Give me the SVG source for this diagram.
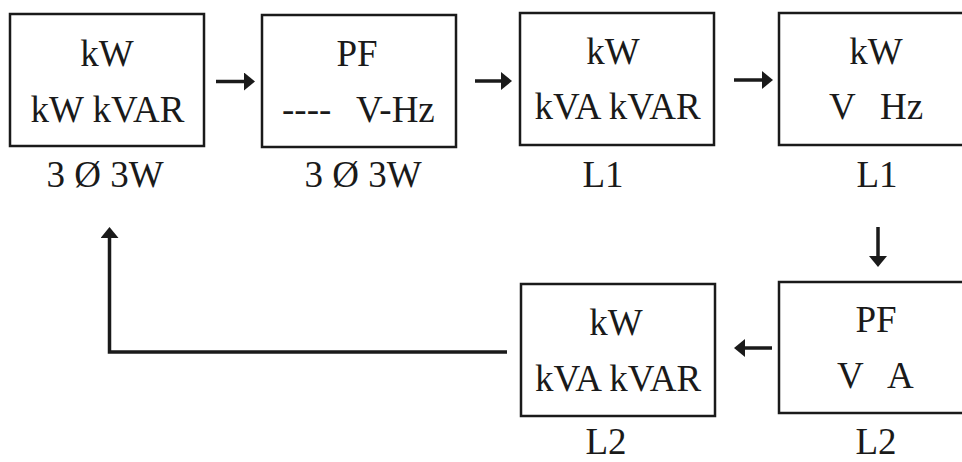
<svg xmlns="http://www.w3.org/2000/svg" width="962" height="462" viewBox="0 0 962 462">
<defs>
<style>
.box{fill:#fff;stroke:#1a1a1a;stroke-width:2.5}
.t{font-family:"Liberation Serif","Times New Roman",serif;font-size:37px;fill:#1a1a1a}
.m{text-anchor:middle}
.c{fill:none;stroke:#1a1a1a;stroke-width:3.5}
</style>
<marker id="ah" markerUnits="userSpaceOnUse" viewBox="0 0 11 18" refX="0" refY="9" markerWidth="11" markerHeight="18" orient="auto">
<path d="M0,0 L11,9 L0,18 z" fill="#1a1a1a"/>
</marker>
</defs>
<rect width="962" height="462" fill="#fff"/>
<g id="connectors">
<line class="c" x1="216" y1="81.5" x2="244" y2="81.5" marker-end="url(#ah)"/>
<line class="c" x1="475" y1="81" x2="501" y2="81" marker-end="url(#ah)"/>
<line class="c" x1="734" y1="80" x2="762" y2="80" marker-end="url(#ah)"/>
<line class="c" x1="878" y1="227" x2="878" y2="256" marker-end="url(#ah)"/>
<line class="c" x1="772" y1="348" x2="745" y2="348" marker-end="url(#ah)"/>
<path class="c" d="M507,352 H109.5 V238" marker-end="url(#ah)"/>
</g>
<g id="node1">
<rect class="box" x="10" y="14" width="194" height="132"/>
<text class="t m" x="107" y="66">kW</text>
<text class="t m" x="107.5" y="122">kW kVAR</text>
<text class="t m" x="105" y="187">3 Ø 3W</text>
</g>
<g id="node2">
<rect class="box" x="262" y="15" width="194" height="132"/>
<text class="t m" x="357" y="66">PF</text>
<text class="t" y="122"><tspan x="282">----</tspan><tspan x="356">V-Hz</tspan></text>
<text class="t m" x="363" y="187">3 Ø 3W</text>
</g>
<g id="node3">
<rect class="box" x="520" y="13" width="194" height="132"/>
<text class="t m" x="613" y="64">kW</text>
<text class="t m" x="617.5" y="119">kVA kVAR</text>
<text class="t m" x="603" y="187">L1</text>
</g>
<g id="node4">
<rect class="box" x="779" y="13" width="194" height="132"/>
<text class="t m" x="876" y="64">kW</text>
<text class="t" y="119"><tspan x="829">V</tspan><tspan x="880">Hz</tspan></text>
<text class="t m" x="877" y="187">L1</text>
</g>
<g id="node5">
<rect class="box" x="779" y="282" width="194" height="131"/>
<text class="t m" x="876" y="332">PF</text>
<text class="t" y="388"><tspan x="837">V</tspan><tspan x="887">A</tspan></text>
<text class="t m" x="876" y="454">L2</text>
</g>
<g id="node6">
<rect class="box" x="521" y="284" width="194" height="132"/>
<text class="t m" x="616" y="335">kW</text>
<text class="t m" x="618" y="391">kVA kVAR</text>
<text class="t m" x="606" y="454">L2</text>
</g>
</svg>
